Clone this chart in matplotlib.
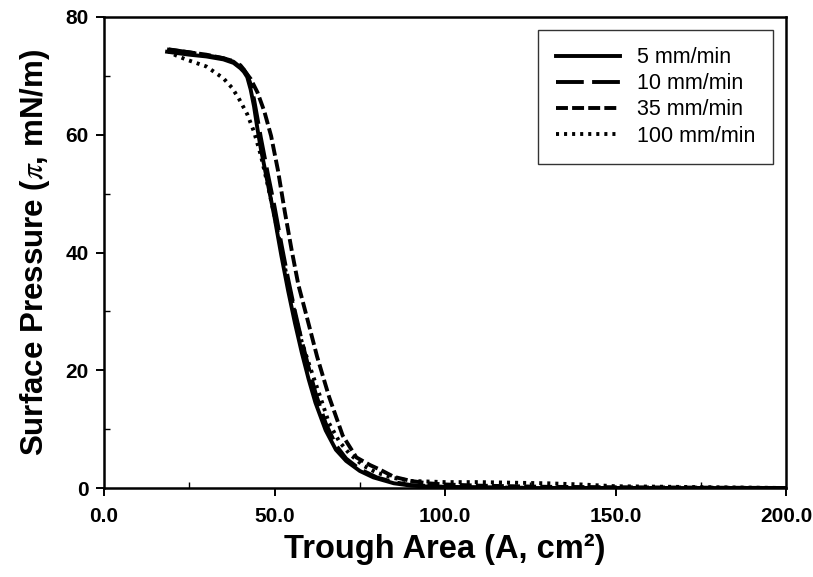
import matplotlib
matplotlib.use("Agg")
import matplotlib.pyplot as plt
from matplotlib.ticker import MultipleLocator, FormatStrFormatter

# Surface pressure isotherms
x_5 = [18.5, 25, 30, 35, 38, 40, 41, 42, 43, 44, 45, 46, 48, 50, 52, 54, 56, 58, 60, 62, 65, 68, 71, 75, 79, 85, 90, 100, 120, 150, 200]
y_5 = [74.1, 73.6, 73.3, 72.8, 72.2, 71.3, 70.7, 69.8, 67.7, 64.8, 61.0, 57.6, 51.8, 46.0, 39.5, 33.5, 28.0, 23.0, 18.5, 14.5, 9.8, 6.5, 4.6, 2.9, 1.8, 0.8, 0.4, 0.1, 0.0, 0.0, 0.0]

x_10 = [19, 25, 30, 35, 38, 40, 41, 42, 43, 44, 45, 46, 48, 50, 52, 54, 56, 58, 60, 62, 65, 68, 71, 75, 80, 85, 90, 100, 130, 200]
y_10 = [74.5, 74.0, 73.5, 73.0, 72.5, 71.8, 71.1, 70.2, 68.6, 66.0, 62.8, 59.5, 53.5, 47.8, 41.5, 35.5, 30.0, 25.0, 20.5, 16.2, 11.0, 7.3, 5.0, 3.2, 1.8, 1.0, 0.5, 0.2, 0.0, 0.0]

x_35 = [18.5, 25, 30, 35, 38, 41, 43, 45, 47, 49, 51, 53, 55, 57, 59.5, 62.5, 66, 70, 74, 78, 81, 85, 90, 95, 100, 110, 130, 160, 200]
y_35 = [74.5, 74.0, 73.6, 73.0, 72.4, 71.0, 69.5, 67.2, 64.0, 59.8, 54.0, 47.0, 40.5, 34.5, 29.0, 22.3, 15.5, 8.9, 5.2, 3.9, 3.1, 1.9, 1.2, 0.8, 0.6, 0.4, 0.2, 0.1, 0.0]

x_100 = [18.5, 21, 24, 27, 30, 32, 35, 37.5, 39.5, 42, 44, 46, 48, 50, 52, 54, 56, 58, 60.5, 63, 66, 69, 72, 76, 80, 85, 90, 100, 110, 120, 130, 140, 150, 200]
y_100 = [74.3, 73.5, 72.8, 72.2, 71.6, 70.8, 69.6, 68.0, 66.2, 63.5, 60.5, 56.5, 51.5, 46.2, 40.5, 34.8, 29.6, 24.8, 20.4, 16.2, 11.0, 7.9, 5.8, 3.8, 2.6, 1.7, 1.2, 1.0, 1.0, 0.9, 0.8, 0.6, 0.3, 0.0]

labels = ["5 mm/min", "10 mm/min", "35 mm/min", "100 mm/min"]

plt.rcParams.update({'font.family': 'Liberation Sans'})
plt.rcParams.update({'mathtext.fontset': 'stix'})
plt.rcParams.update({'lines.scale_dashes': False})

fig = plt.figure(figsize=(8.13, 5.77), dpi=100)
ax = fig.add_axes([104 / 813, 1 - 488 / 577, 682 / 813, 471 / 577])

lw = 2.8
ax.plot(x_5, y_5, color="black", linewidth=lw, label=labels[0])
ax.plot(x_10, y_10, color="black", linewidth=lw, dashes=(20, 6), label=labels[1])
ax.plot(x_35, y_35, color="black", linewidth=lw, dashes=(8.6, 3), label=labels[2])
ax.plot(x_100, y_100, color="black", linewidth=lw, dashes=(2.2, 3.6), label=labels[3])

ax.set_xlim(0, 200)
ax.set_ylim(0, 80)
ax.xaxis.set_major_locator(MultipleLocator(50))
ax.xaxis.set_minor_locator(MultipleLocator(25))
ax.yaxis.set_major_locator(MultipleLocator(20))
ax.yaxis.set_minor_locator(MultipleLocator(10))
ax.xaxis.set_major_formatter(FormatStrFormatter('%.1f'))

ax.tick_params(which='major', direction='out', length=6, width=1.4, labelsize=15, top=False, right=False)
ax.tick_params(which='minor', direction='in', length=4, width=1.0, top=False, right=False)
for lab in ax.get_xticklabels() + ax.get_yticklabels():
    lab.set_fontweight('bold')
ax.tick_params(axis='x', pad=8)
ax.tick_params(axis='y', pad=5)

for sp in ax.spines.values():
    sp.set_linewidth(1.8)

ax.set_xlabel("Trough Area (A, cm\u00b2)", fontsize=23.5, fontweight='bold', labelpad=5)
ax.set_ylabel("Surface Pressure ($\\pi$, mN/m)", fontsize=22.5, fontweight='bold', labelpad=10)

leg = ax.legend(loc='upper right', fontsize=15.5, handlelength=3.0, labelspacing=0.24,
                frameon=True, fancybox=False, borderaxespad=0.6, borderpad=0.8,
                handletextpad=0.8)
leg.get_frame().set_edgecolor('black')
leg.get_frame().set_linewidth(1.0)

plt.savefig("out.png", dpi=100)
plt.close()
